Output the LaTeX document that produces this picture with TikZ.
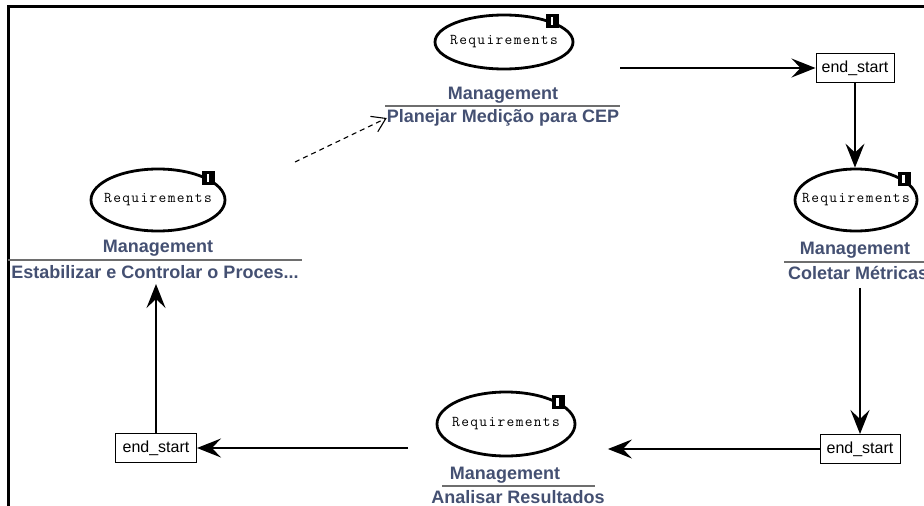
\documentclass[tikz,border=0pt]{standalone}
\usepackage{fontspec}
\setmainfont{Liberation Sans}
\newfontfamily\reqfont[LetterSpace=9]{Latin Modern Mono}
\usetikzlibrary{shapes.geometric,arrows.meta,fit}
\definecolor{lblblue}{RGB}{68,80,114}
\definecolor{rulegray}{RGB}{110,110,110}

\begin{document}
\begin{tikzpicture}[x=1pt,y=-1pt,
  usecase/.style={ellipse,draw=black,line width=2.8pt,inner sep=0pt},
  reqtext/.style={font=\reqfont\fontsize{15}{17}\selectfont,inner sep=0pt},
  stereo/.style={font=\bfseries\fontsize{18}{21}\selectfont,text=lblblue,inner sep=0pt},
  actname/.style={font=\bfseries\fontsize{18}{21}\selectfont,text=lblblue,inner sep=0pt},
  sepline/.style={draw=rulegray,line width=1.2pt},
  endbox/.style={draw=black,line width=1pt,fill=white,minimum width=78pt,minimum height=29pt,inner sep=0pt,font=\fontsize{16}{18}\selectfont},
  flow/.style={line width=1.3pt,-{Stealth[length=24pt,width=19pt,inset=9pt]}},
  weakflow/.style={line width=1.1pt,dash pattern=on 5pt off 4pt,-{Straight Barb[length=13pt,width=17pt]}},
  group/.style={inner sep=1pt},
  dmark/.style={fill=black,minimum width=13pt,minimum height=14pt,inner sep=0pt,
    path picture={\fill[white] ([xshift=4.5pt,yshift=3pt]path picture bounding box.south west)
      rectangle ([xshift=-6pt,yshift=-3pt]path picture bounding box.north east);}}
]
\clip (0,0) rectangle (924,506);

% frame of the drawing area
\draw[line width=2.5pt] (924,6.5) -- (8.5,6.5) -- (8.5,506);

% activity: Planejar
\node[usecase,minimum width=138pt,minimum height=54pt] (ucA) at (504,42) {};
\node[reqtext] (reqA) at (ucA.center) {Requirements};
\node[dmark] (dA) at (ucA.23) {};
\node[stereo] (stA) at (503,95) {Management};
\node[actname] (nmA) at (503,118) {Planejar Medição para CEP};
\draw[sepline] (385,106) -- (620,106);
\node[group,fit=(ucA)(stA)(nmA)] (gA) {};

% activity: Estabilizar
\node[usecase,minimum width=134pt,minimum height=62pt] (ucB) at (158,200) {};
\node[reqtext] (reqB) at (ucB.center) {Requirements};
\node[dmark] (dB) at (ucB.23) {};
\node[stereo] (stB) at (158,248) {Management};
\node[actname] (nmB) at (155,272) {Estabilizar e Controlar o Proces...};
\draw[sepline] (8,260) -- (302,260);
\node[group,fit=(ucB)(stB)(nmB)] (gB) {};

% activity: Coletar
\node[usecase,minimum width=122pt,minimum height=62pt] (ucC) at (856,200) {};
\node[reqtext] (reqC) at (ucC.center) {Requirements};
\node[dmark] (dC) at (ucC.23) {};
\node[stereo] (stC) at (855,250) {Management};
\node[actname,anchor=west] (nmC) at (788,273) {Coletar Métricas};
\draw[sepline] (784,262) -- (924,262);
\node[group,fit=(ucC)(stC)] (gC) {};

% activity: Analisar
\node[usecase,minimum width=138pt,minimum height=64pt] (ucD) at (506,424) {};
\node[reqtext] (reqD) at (ucD.center) {Requirements};
\node[dmark] (dD) at (ucD.23) {};
\node[stereo] (stD) at (505,475) {Management};
\node[actname] (nmD) at (518,497) {Analisar Resultados};
\draw[sepline] (442,486) -- (595,486);
\node[group,fit=(ucD)(stD)(nmD)] (gD) {};

% transition boxes
\node[endbox] (endA) at (855,68) {end\_start};
\node[endbox,minimum width=80pt] (endB) at (860,449) {end\_start};
\node[endbox,minimum width=81pt] (endC) at (156,448) {end\_start};

% flows
\coordinate (dashFrom) at (295,162);
\draw[flow] (gA.east |- endA.west) -- (endA.west);
\draw[flow] (endA.south) -- (endA.south |- ucC.north);
\draw[flow,shorten <=8pt] (nmC.south -| endB.north) -- (endB.north);
\draw[flow,shorten >=2pt] (endB.west) -- (gD.east |- endB.west);
\draw[flow,shorten <=22pt] (gD.west |- endC.east) -- (endC.east);
\draw[flow,shorten >=4pt] (endC.north) -- (endC.north |- gB.south);
\draw[weakflow] (dashFrom) -- (nmA.west);
\end{tikzpicture}
\end{document}
